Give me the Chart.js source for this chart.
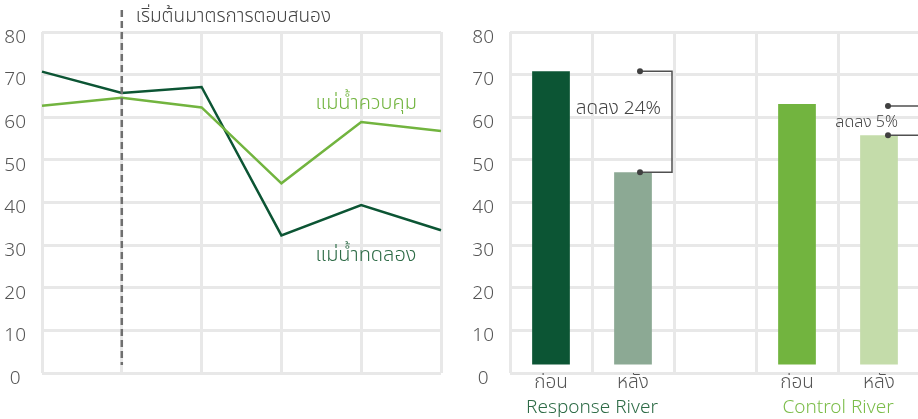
<!DOCTYPE html>
<html>
<head>
<meta charset="utf-8">
<script src="https://cdn.jsdelivr.net/npm/chart.js@4/dist/chart.umd.min.js"></script>
<style>
  html, body { margin: 0; padding: 0; background: #ffffff; overflow: hidden; width: 918px; height: 419px; }
  #lineWrap { position: absolute; left: 0; top: 0; width: 450px; height: 419px; }
  #barWrap { position: absolute; left: 460px; top: 0; width: 470px; height: 419px; }
</style>
</head>
<body>
<div id="lineWrap"><canvas id="lineChart" width="450" height="419"></canvas></div>
<div id="barWrap"><canvas id="barChart" width="470" height="419"></canvas></div>
<script>
// ---- data ----
const timePoints = ['t1', 't2', 't3', 't4', 't5', 't6'];
const responseSeries = [70.7, 65.7, 67.1, 32.3, 39.4, 33.5];   // แม่น้ำทดลอง
const controlSeries = [62.7, 64.6, 62.3, 44.5, 58.9, 56.8];    // แม่น้ำควบคุม
const interventionIndex = 1;
const interventionLabel = 'เริ่มต้นมาตรการตอบสนอง';
const seriesNames = ['แม่น้ำทดลอง', 'แม่น้ำควบคุม'];

const barCategories = ['ก่อน', 'หลัง', '', 'ก่อน', 'หลัง'];
const barValues = [70.8, 47.1, null, 63.1, 55.8];
const barBase = 2;
const groupNames = ['Response River', 'Control River'];
const changeLabels = ['ลดลง 24%', 'ลดลง 5%'];

const yMin = 0, yMax = 80, yStep = 10;

// ---- style ----
const FONT = "'Noto Sans Thai', 'Noto Sans Thai UI', 'Noto Sans', 'DejaVu Sans', sans-serif";
const DARK = '#0c5534';
const LIGHT = '#72b43f';
const GRID = '#e8e8e8';
const TICK = '#555555';
const TEXT = '#444444';

function yAxis(width) {
  return {
    min: yMin, max: yMax,
    ticks: { stepSize: yStep, color: TICK, font: { family: FONT, size: 19, weight: 300 }, padding: 16, crossAlign: 'center', labelOffset: 7 },
    grid: { color: GRID, lineWidth: 3, drawTicks: false },
    border: { display: false },
    afterFit(scale) { scale.width = width; }
  };
}

// ---- line chart ----
const lineDecor = {
  id: 'lineDecor',
  afterDatasetsDraw(chart) {
    const { ctx, scales: { x, y } } = chart;
    const xi = x.getPixelForValue(interventionIndex);
    ctx.save();
    ctx.strokeStyle = '#6f6f6f';
    ctx.lineWidth = 2.5;
    ctx.setLineDash([7, 4]);
    ctx.beginPath();
    ctx.moveTo(xi, 10);
    ctx.lineTo(xi, chart.chartArea.bottom - 8);
    ctx.stroke();
    ctx.setLineDash([]);

    ctx.font = '300 19px ' + FONT;
    ctx.textBaseline = 'middle';
    ctx.textAlign = 'left';
    ctx.fillStyle = TEXT;
    ctx.fillText(interventionLabel, xi + 14, 18);

    const lx = x.getPixelForValue(3) + 34;
    ctx.font = '300 20px ' + FONT;
    ctx.fillStyle = LIGHT;
    ctx.fillText(seriesNames[1], lx, y.getPixelForValue(controlSeries[4]) - 17);
    ctx.fillStyle = '#2d6b46';
    ctx.fillText(seriesNames[0], lx, y.getPixelForValue(responseSeries[4]) + 52);
    ctx.restore();
  }
};

new Chart(document.getElementById('lineChart'), {
  type: 'line',
  data: {
    labels: timePoints,
    datasets: [
      { label: seriesNames[1], data: controlSeries, borderColor: LIGHT, borderWidth: 2.5, pointRadius: 0, tension: 0 },
      { label: seriesNames[0], data: responseSeries, borderColor: DARK, borderWidth: 2.5, pointRadius: 0, tension: 0 }
    ]
  },
  options: {
    responsive: false,
    animation: false,
    layout: { padding: { left: 0, top: 32, right: 9, bottom: 0 } },
    plugins: { legend: { display: false }, tooltip: { enabled: false } },
    scales: {
      x: {
        ticks: { display: false },
        grid: { color: GRID, lineWidth: 3, drawTicks: false },
        border: { display: false },
        afterFit(scale) { scale.height = 46; }
      },
      y: yAxis(42)
    }
  },
  plugins: [lineDecor]
});

// ---- bar chart ----
const barDecor = {
  id: 'barDecor',
  afterDatasetsDraw(chart) {
    const { ctx, scales: { x, y } } = chart;
    ctx.save();
    ctx.strokeStyle = '#505050';
    ctx.lineWidth = 1.5;

    function dot(px, py) {
      ctx.fillStyle = '#404040';
      ctx.beginPath();
      ctx.arc(px, py, 3, 0, Math.PI * 2);
      ctx.fill();
    }

    // Response River bracket
    const rx = x.getPixelForValue(1) + 7;
    const rBracket = x.getPixelForValue(1) + 39;
    const rTop = y.getPixelForValue(barValues[0]);
    const rBot = y.getPixelForValue(barValues[1]);
    ctx.beginPath();
    ctx.moveTo(rx, rTop);
    ctx.lineTo(rBracket, rTop);
    ctx.lineTo(rBracket, rBot);
    ctx.lineTo(rx, rBot);
    ctx.stroke();
    dot(rx, rTop);
    dot(rx, rBot);

    ctx.font = '300 19px ' + FONT;
    ctx.textBaseline = 'middle';
    ctx.textAlign = 'right';
    ctx.fillStyle = TEXT;
    ctx.fillText(changeLabels[0], rBracket - 11, rTop + 0.39 * (rBot - rTop));

    // Control River bracket
    const cx = x.getPixelForValue(4) + 9;
    const cTop = y.getPixelForValue(barValues[3]) + 2;
    const cBot = y.getPixelForValue(barValues[4]);
    const cEnd = chart.width;
    ctx.beginPath();
    ctx.moveTo(cx, cTop); ctx.lineTo(cEnd, cTop);
    ctx.moveTo(cx, cBot); ctx.lineTo(cEnd, cBot);
    ctx.stroke();
    dot(cx, cTop);
    dot(cx, cBot);
    ctx.font = '300 16px ' + FONT;
    ctx.fillStyle = TEXT;
    ctx.fillText(changeLabels[1], cx + 10, cTop + 0.62 * (cBot - cTop));

    // group names under the category labels
    ctx.font = '300 19px ' + FONT;
    ctx.textAlign = 'center';
    ctx.fillStyle = '#2d6b46';
    ctx.fillText(groupNames[0], (x.getPixelForValue(0) + x.getPixelForValue(1)) / 2, 409);
    ctx.fillStyle = '#7cbd4a';
    ctx.fillText(groupNames[1], (x.getPixelForValue(3) + x.getPixelForValue(4)) / 2, 409);
    ctx.restore();
  }
};

new Chart(document.getElementById('barChart'), {
  type: 'bar',
  data: {
    labels: barCategories,
    datasets: [{
      data: barValues,
      base: barBase,
      backgroundColor: [DARK, '#8ca994', 'rgba(0,0,0,0)', LIGHT, '#c4dcaa'],
      barPercentage: 0.46,
      categoryPercentage: 1
    }]
  },
  options: {
    responsive: false,
    animation: false,
    layout: { padding: { left: 0, top: 32, right: 10, bottom: 0 } },
    plugins: { legend: { display: false }, tooltip: { enabled: false } },
    scales: {
      x: {
        ticks: { color: TICK, font: { family: FONT, size: 19, weight: 300 }, padding: 0, maxRotation: 0, autoSkip: false },
        grid: { color: GRID, lineWidth: 3, drawTicks: false },
        border: { display: false },
        afterFit(scale) { scale.height = 46; }
      },
      y: yAxis(50)
    }
  },
  plugins: [barDecor]
});
</script>
</body>
</html>
